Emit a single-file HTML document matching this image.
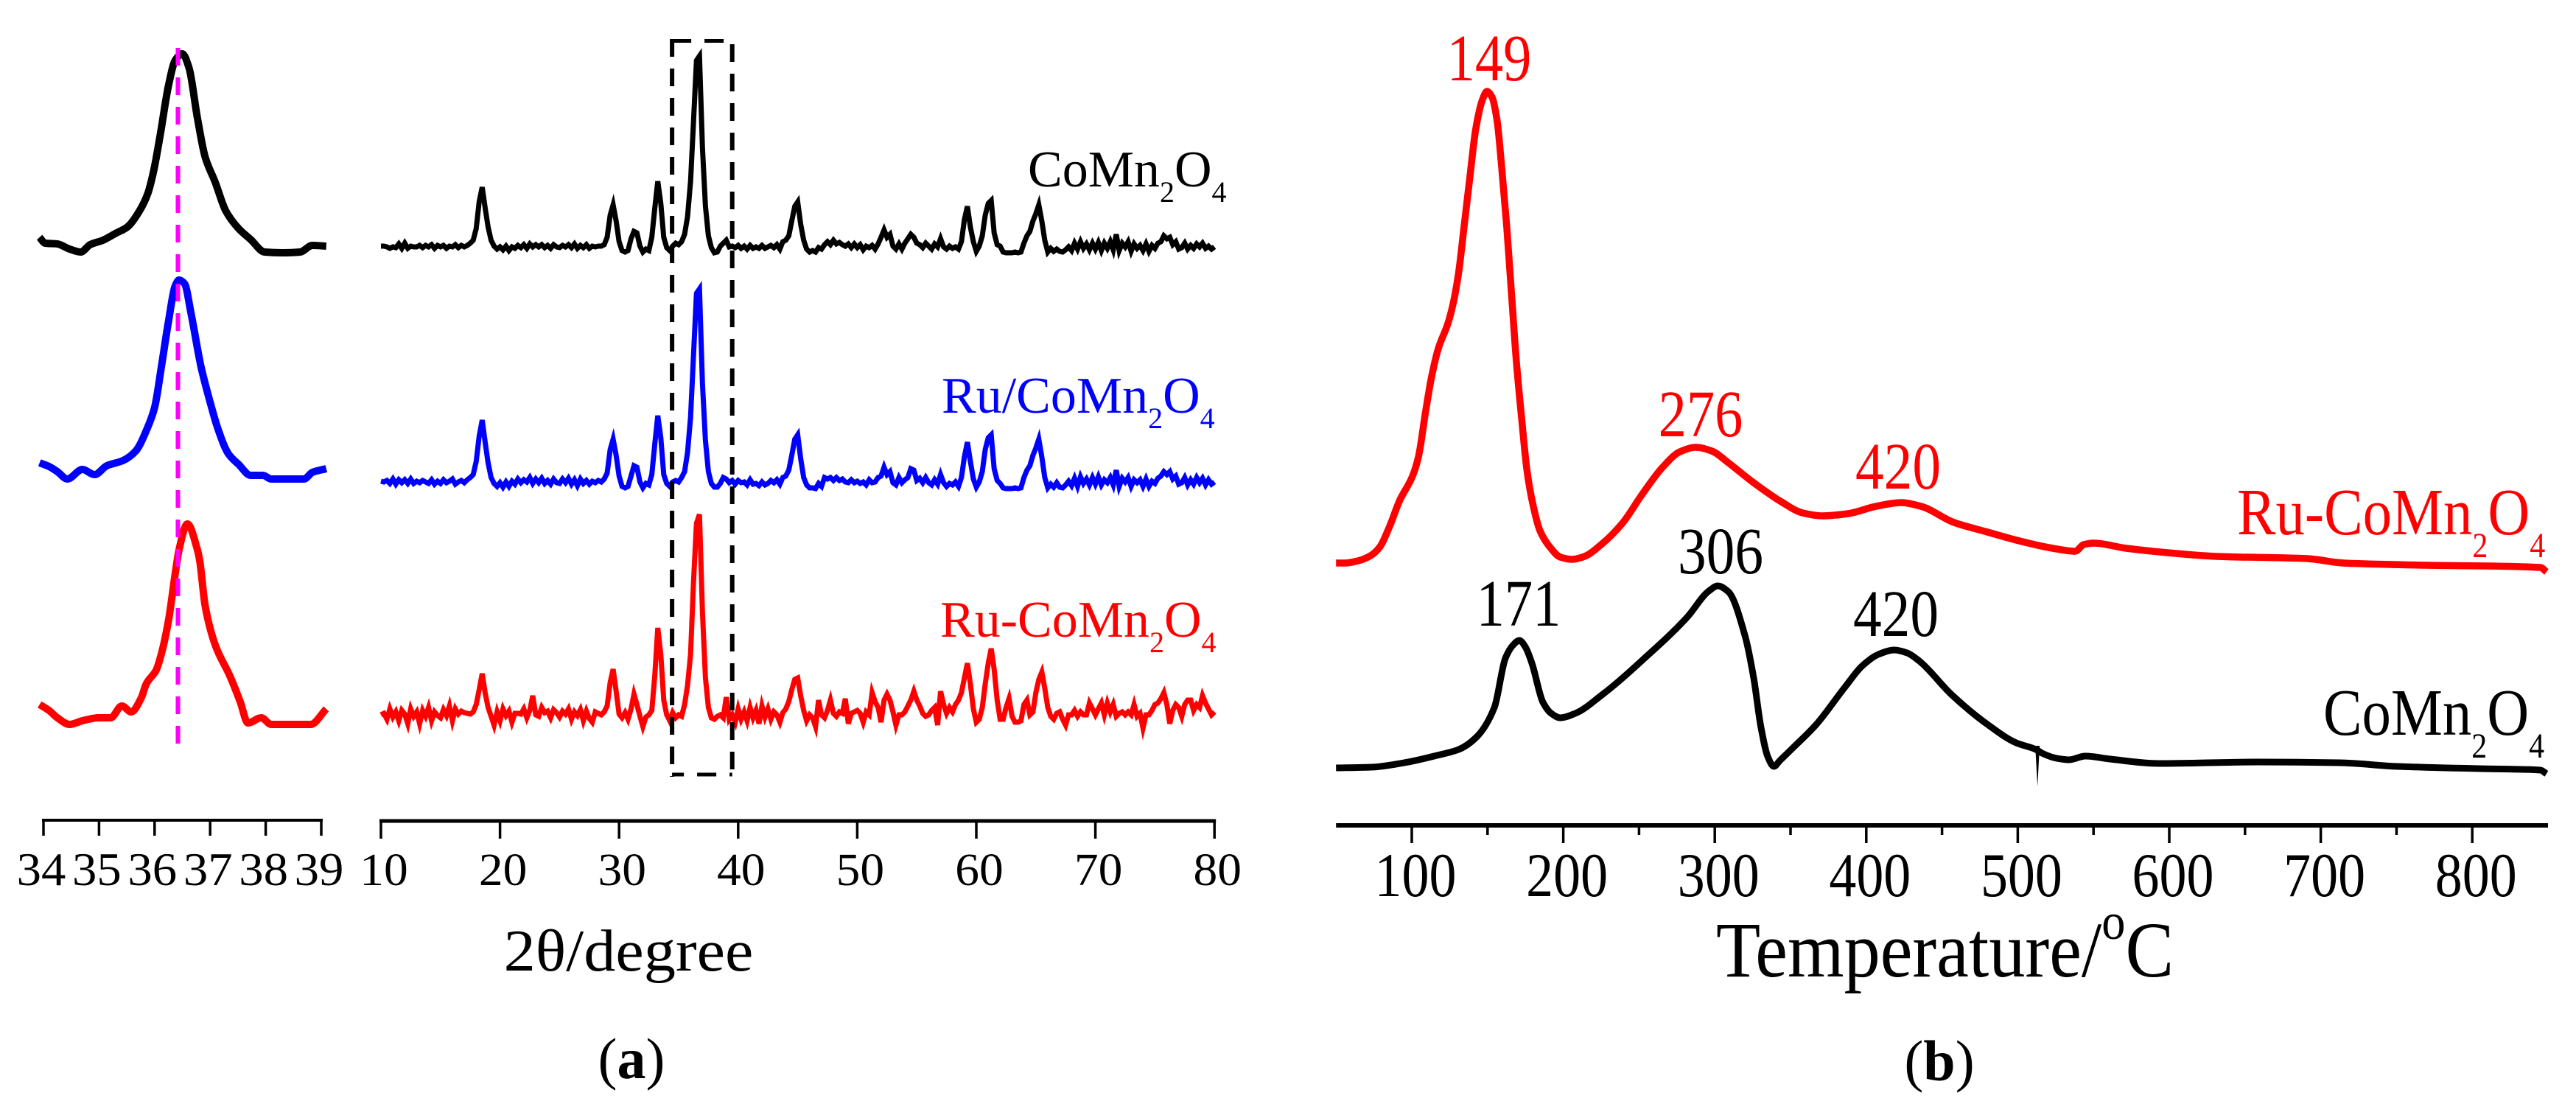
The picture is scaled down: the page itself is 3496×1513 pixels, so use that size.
<!DOCTYPE html>
<html lang="en">
<head>
<meta charset="utf-8">
<title>XRD patterns and TPR profiles of CoMn2O4 catalysts</title>
<style>
html,body{margin:0;padding:0;background:#fff;}
svg{display:block;}
text{font-family:"Liberation Serif","Times New Roman",serif;}
</style>
</head>
<body>
<svg id="figure" xmlns="http://www.w3.org/2000/svg" width="3496" height="1513" viewBox="0 0 3496 1513">
  <rect x="0" y="0" width="3496" height="1513" fill="#ffffff"/>
  <g id="inset-layer"></g>
  <g id="xrd-layer"></g>
  <g id="tpr-layer"></g>

  <text x="1395" y="253" font-size="70" fill="#000">CoMn<tspan font-size="40" dy="21">2</tspan><tspan dy="-21">O</tspan><tspan font-size="40" dy="21">4</tspan></text>
  <text x="1278" y="560" font-size="70" fill="#0000ff">Ru/CoMn<tspan font-size="40" dy="21">2</tspan><tspan dy="-21">O</tspan><tspan font-size="40" dy="21">4</tspan></text>
  <text x="1276" y="864" font-size="70" fill="#ff0000">Ru-CoMn<tspan font-size="40" dy="21">2</tspan><tspan dy="-21">O</tspan><tspan font-size="40" dy="21">4</tspan></text>

  <text transform="translate(853,1317) scale(1.08,1)" text-anchor="middle" font-size="80" fill="#000">2θ/degree</text>
  <text x="857" y="1463" text-anchor="middle" font-size="78" fill="#000">(<tspan font-weight="bold">a</tspan>)</text>

  <text transform="translate(2021,109) scale(.85,1)" text-anchor="middle" font-size="90" fill="#ff0000">149</text>
  <text transform="translate(2308,592) scale(.85,1)" text-anchor="middle" font-size="90" fill="#ff0000">276</text>
  <text transform="translate(2576,663) scale(.86,1)" text-anchor="middle" font-size="90" fill="#ff0000">420</text>
  <text transform="translate(2335,778) scale(.86,1)" text-anchor="middle" font-size="90" fill="#000">306</text>
  <text transform="translate(2061,849) scale(.85,1)" text-anchor="middle" font-size="90" fill="#000">171</text>
  <text transform="translate(2573,863) scale(.86,1)" text-anchor="middle" font-size="90" fill="#000">420</text>

  <text transform="translate(3036,725) scale(.875,1)" font-size="90" fill="#ff0000">Ru-CoMn<tspan font-size="48" dy="31">2</tspan><tspan dy="-31">O</tspan><tspan font-size="48" dy="31">4</tspan></text>
  <text transform="translate(3153,997) scale(.875,1)" font-size="90" fill="#000">CoMn<tspan font-size="48" dy="31">2</tspan><tspan dy="-31">O</tspan><tspan font-size="48" dy="31">4</tspan></text>

  <text transform="translate(2329,1325) scale(.92,1)" font-size="107" fill="#000">Temperature/<tspan font-size="70" dy="-51">o</tspan><tspan dy="51">C</tspan></text>
  <text x="2632" y="1466" text-anchor="middle" font-size="78" fill="#000">(<tspan font-weight="bold">b</tspan>)</text>
</svg>

<script>
/* ---------- Inset XRD (34-39 degrees) ---------- */
const insetTicks = [34, 35, 36, 37, 38, 39];
const insetAnglesBlack = [33.93,34.03,34.25,34.47,34.67,34.84,35.07,35.29,35.51,35.73,35.88,35.98,36.10,36.25,36.37,36.50,36.62,36.77,36.91,37.09,37.28,37.51,37.73,37.98,38.32,38.62,38.84,39.09];
const insetValuesBlack = [28,20,19,12,8,18,24,33,42,64,88,117,166,234,268,277,258,190,137,103,64,40,25,8,7,8,17,16];
const insetAnglesBlue = [33.93,34.10,34.25,34.43,34.70,34.92,35.14,35.43,35.66,35.88,36.0,36.13,36.25,36.37,36.44,36.54,36.66,36.84,36.99,37.14,37.33,37.51,37.73,37.95,38.10,38.69,38.84,39.09];
const insetValuesBlue = [32,27,20,10,23,16,28,35,48,81,107,166,224,272,280,275,233,161,117,78,44,30,15,15,10,10,19,24];
const insetAnglesRed = [33.93,34.10,34.25,34.47,34.70,34.99,35.21,35.41,35.58,35.76,35.85,36.03,36.13,36.25,36.37,36.44,36.59,36.77,36.81,36.91,37.09,37.36,37.54,37.68,37.92,38.10,38.81,39.09];
const insetValuesRed = [44,36,26,17,22,26,26,42,34,53,72,91,115,158,221,254,289,254,240,178,125,82,48,19,26,17,17,38];
const insetReferenceAngle = 36.42;

/* ---------- Full XRD pattern (10-80 degrees, one value every 0.25 degree) ---------- */
const xrdTicks = [10, 20, 30, 40, 50, 60, 70, 80];
const xrdStart = 10;
const xrdStep = 0.25;
const xrdBoxAngles = [34.45, 39.5];
const xrdBlack = [
16,16,15,13,15,14,19,13,20,13,16,15,15,17,14,17,15,18,13,17,
15,17,13,16,15,18,14,17,15,17,20,24,40,76,96,68,42,24,16,12,
15,11,16,10,15,13,17,14,18,13,19,15,18,15,18,14,17,13,18,15,
14,17,15,18,14,19,13,17,14,18,13,16,15,16,16,18,28,58,72,50,
22,10,8,10,26,36,34,16,8,12,10,28,68,104,74,28,14,10,16,20,
18,22,32,56,104,185,268,274,150,70,30,14,7,8,16,20,24,15,16,14,
17,13,16,12,17,13,15,13,17,13,15,17,14,18,12,22,24,30,50,70,
76,46,24,12,8,10,8,14,12,18,22,18,24,19,21,18,16,19,14,19,
14,18,11,16,14,17,12,19,28,38,28,32,16,12,19,12,20,26,32,28,
20,18,14,20,16,12,19,15,26,15,12,16,13,15,12,22,52,70,42,22,
9,16,30,58,74,78,34,18,16,8,7,7,7,8,7,8,20,30,36,50,
60,72,50,24,8,13,9,12,9,8,11,15,10,20,12,22,13,19,11,20,
12,21,10,20,13,22,11,32,10,20,15,22,9,19,13,17,10,19,9,17,
13,20,22,30,26,28,18,22,12,14,20,12,17,13,19,15,20,13,16,12,
15];
const xrdBlue = [
17,16,18,14,20,13,19,15,19,14,20,14,17,15,18,16,14,19,13,17,
14,19,15,17,20,13,16,18,15,19,22,26,44,78,100,70,42,22,14,10,
15,9,16,10,17,13,20,15,19,16,22,14,20,15,21,14,18,13,20,15,
14,20,15,21,13,19,11,20,14,18,13,17,15,18,16,20,28,60,74,52,
24,10,8,10,24,38,36,16,8,14,12,26,68,106,76,26,14,10,16,18,
16,22,30,56,104,188,272,278,150,72,30,14,9,9,14,22,20,15,18,13,
18,15,16,12,19,13,14,11,16,12,14,18,15,19,13,22,24,32,52,74,
80,48,22,12,8,8,7,14,10,22,20,22,18,22,18,20,16,15,19,15,
17,14,16,12,19,15,16,22,24,36,26,30,15,12,22,15,19,22,34,32,
18,21,15,22,15,12,19,13,26,15,10,14,12,16,10,22,50,70,44,20,
9,16,30,60,76,80,34,18,14,8,7,7,7,8,7,8,22,32,38,52,
62,74,50,22,8,13,9,15,9,8,12,17,11,21,10,23,14,20,12,22,
13,23,12,19,15,22,12,32,10,21,16,22,10,19,15,19,10,20,10,17,
14,21,24,30,26,30,20,24,13,15,22,12,19,13,22,15,21,12,19,13,
16];
const xrdRed = [
30,32,24,38,27,34,22,36,31,18,38,28,34,18,36,28,40,22,34,29,
26,37,29,42,22,38,31,35,33,32,31,34,44,64,86,60,40,28,16,34,
22,38,29,35,20,32,32,31,38,26,36,56,30,28,40,33,35,26,37,33,
27,35,31,38,24,34,29,37,22,35,25,20,34,32,30,34,42,74,92,62,
31,26,33,24,38,58,44,28,14,27,30,36,84,148,112,50,30,22,33,26,
30,28,44,70,112,210,290,302,170,80,40,26,24,28,30,26,54,24,30,20,
38,24,34,22,40,26,36,18,42,27,38,24,34,30,20,33,38,48,64,78,
80,56,36,22,30,26,14,50,30,26,36,50,32,28,34,32,52,18,32,34,
36,32,20,34,30,60,48,40,20,50,58,50,34,16,30,30,34,42,50,62,
50,42,32,28,30,36,40,16,62,44,32,40,34,44,50,60,80,100,72,38,
20,24,40,72,100,120,92,50,24,24,40,52,28,20,20,22,44,50,30,34,
60,78,88,66,40,28,24,32,34,24,16,30,30,36,28,34,30,30,46,38,
30,38,46,30,46,34,44,28,32,34,30,34,30,44,28,32,12,30,30,36,
44,46,52,60,44,18,36,44,40,28,44,50,50,36,44,40,56,46,38,30,
34];

/* ---------- TPR (Temperature in degrees C, signal in a.u.) ---------- */
const tprMajorTicks = [100, 200, 300, 400, 500, 600, 700, 800];
const tprMinorTicks = [150, 250, 350, 450, 550, 650, 750];
const tprTempsRed = [50,55.7,64.5,72.8,79,85,92,100.5,104.4,109,113,117.5,124,127.7,131,134.5,138.4,142.3,146.7,149.6,153,156.4,159.3,162.7,166,169,172.5,176,180,184.6,191,198,206,214,225,239,252,266,277,287.5,298,309,325,344,358,371,388,406.5,423,436,458,480,501,523,538,543.5,550,571.7,599,631,691,715,770,845,849];
const tprValuesRed = [36,36,39,46,58,84,121,154,180,240,288,327,362,392,431,492,561,626,665,676,668,635,574,492,396,310,232,162,115,80,58,44,41,45,61,90,129,167,187,193,188,172,146,119,104,100,103,113,118,113,91,78,66,56,52,61,63,56,50,45,42,36,33,30,24];
const tprTempsBlack = [50,73.4,95,116.7,131,142.8,154.5,161.8,167,171,175,179.3,186.6,192,198,208,225.5,253.7,282,295.5,302,309,320,325.7,330.5,335,339,343,350.5,367,385.7,397.6,408,418.6,427,435,456.5,480,499,512,516,525.7,533.7,544.6,561,593,658,712.5,750.4,804.6,845,849];
const tprValuesBlack = [58,59,65,75,83,100,140,207,225,231,222,200,147,132,126,132,157,207,263,297,305,297,237,180,113,73,60,68,83,117,167,197,212,218,214,203,157,117,92,83,78,71,69,74,70,64,66,65,60,57,55,50];
const tprDipTemp = 513;
const tprDipTop = 88;
const tprDipBottom = 33;

/* ---------- Axis functions ---------- */
function insetX(angle) { return 59 + (angle - 34) * 75.4; }
function xrdX(angle) { return 517 + (angle - 10) * 16.16; }
function tprX(temp) { return 1916 + (temp - 100) * 2.056; }
function intensityY(base, value) { return base - value; }

const SVG_NS = 'http://www.w3.org/2000/svg';
const insetLayer = document.getElementById('inset-layer');
const xrdLayer = document.getElementById('xrd-layer');
const tprLayer = document.getElementById('tpr-layer');

function polyPath(xs, ys) {
  let d = '';
  for (let i = 0; i < xs.length; i++) {
    d += (i === 0 ? 'M' : 'L') + xs[i].toFixed(1) + ' ' + ys[i].toFixed(1);
  }
  return d;
}

/* Monotone cubic interpolation through the data points */
function smoothPath(xs, ys) {
  const n = xs.length;
  const secant = [];
  for (let i = 0; i < n - 1; i++) { secant.push((ys[i + 1] - ys[i]) / (xs[i + 1] - xs[i])); }
  const slope = [secant[0]];
  for (let i = 1; i < n - 1; i++) {
    if (secant[i - 1] * secant[i] <= 0) { slope.push(0); }
    else {
      const h0 = xs[i] - xs[i - 1];
      const h1 = xs[i + 1] - xs[i];
      const w0 = 2 * h1 + h0;
      const w1 = h1 + 2 * h0;
      slope.push((w0 + w1) / (w0 / secant[i - 1] + w1 / secant[i]));
    }
  }
  slope.push(secant[n - 2]);
  let d = 'M' + xs[0].toFixed(1) + ' ' + ys[0].toFixed(1);
  for (let i = 0; i < n - 1; i++) {
    const h = (xs[i + 1] - xs[i]) / 3;
    d += 'C' + (xs[i] + h).toFixed(1) + ' ' + (ys[i] + slope[i] * h).toFixed(1) + ' ' +
         (xs[i + 1] - h).toFixed(1) + ' ' + (ys[i + 1] - slope[i + 1] * h).toFixed(1) + ' ' +
         xs[i + 1].toFixed(1) + ' ' + ys[i + 1].toFixed(1);
  }
  return d;
}

function makeCurve(parent, pathData, color, width, join) {
  const p = document.createElementNS(SVG_NS, 'path');
  p.setAttribute('d', pathData);
  p.setAttribute('fill', 'none');
  p.setAttribute('stroke', color);
  p.setAttribute('stroke-width', width);
  p.setAttribute('stroke-linejoin', join);
  p.setAttribute('stroke-miterlimit', '5');
  parent.appendChild(p);
  return p;
}

function makeLine(parent, x1, y1, x2, y2, color, width, dash) {
  const l = document.createElementNS(SVG_NS, 'line');
  l.setAttribute('x1', x1);
  l.setAttribute('y1', y1);
  l.setAttribute('x2', x2);
  l.setAttribute('y2', y2);
  l.setAttribute('stroke', color);
  l.setAttribute('stroke-width', width);
  if (dash) { l.setAttribute('stroke-dasharray', dash); }
  parent.appendChild(l);
  return l;
}

function makeText(parent, x, y, size, scale, content) {
  const t = document.createElementNS(SVG_NS, 'text');
  t.setAttribute('transform', 'translate(' + x + ',' + y + ') scale(' + scale + ',1)');
  t.setAttribute('text-anchor', 'middle');
  t.setAttribute('font-size', size);
  t.setAttribute('fill', '#000');
  t.textContent = content;
  parent.appendChild(t);
  return t;
}

/* ---------- Inset plot ---------- */
const insetBlackCurve = makeCurve(insetLayer, smoothPath(insetAnglesBlack.map(insetX), insetValuesBlack.map(function (v) { return intensityY(350, v); })), '#000000', 10, 'round');


const insetBlueCurve = makeCurve(insetLayer, smoothPath(insetAnglesBlue.map(insetX), insetValuesBlue.map(function (v) { return intensityY(660, v); })), '#0000ff', 10, 'round');


const insetRedCurve = makeCurve(insetLayer, smoothPath(insetAnglesRed.map(insetX), insetValuesRed.map(function (v) { return intensityY(1000, v); })), '#ff0000', 10, 'round');



const referenceLine = makeLine(insetLayer, insetX(insetReferenceAngle), 65, insetX(insetReferenceAngle), 1019, '#ff00ff', 6, '24 16');



const insetAxis = makeLine(insetLayer, insetX(34) - 2, 1113, insetX(39) + 2, 1113, '#000', 4);



insetTicks.forEach(function (tick) {
  const mark = makeLine(insetLayer, insetX(tick), 1113, insetX(tick), 1134, '#000', 3.5);
  
  
  const label = makeText(insetLayer, insetX(tick) - 3, 1201, 63, 1.06, String(tick));
  
  
});

/* ---------- Full XRD plot ---------- */
function xrdPositions(series) {
  return series.map(function (_, i) { return xrdX(xrdStart + i * xrdStep); });
}

const xrdBlackCurve = makeCurve(xrdLayer, polyPath(xrdPositions(xrdBlack), xrdBlack.map(function (v) { return intensityY(350, v); })), '#000000', 7, 'miter');


const xrdBlueCurve = makeCurve(xrdLayer, polyPath(xrdPositions(xrdBlue), xrdBlue.map(function (v) { return intensityY(670, v); })), '#0000ff', 7, 'miter');


const xrdRedCurve = makeCurve(xrdLayer, polyPath(xrdPositions(xrdRed), xrdRed.map(function (v) { return intensityY(1000, v); })), '#ff0000', 7, 'miter');



const boxLeft = makeLine(xrdLayer, xrdX(xrdBoxAngles[0]), 53, xrdX(xrdBoxAngles[0]), 1054, '#000', 6, '24 16');


const boxRight = makeLine(xrdLayer, xrdX(xrdBoxAngles[1]), 60, xrdX(xrdBoxAngles[1]), 1054, '#000', 6, '24 16');


const boxTop = makeLine(xrdLayer, xrdX(xrdBoxAngles[0]), 55.5, xrdX(xrdBoxAngles[1]), 55.5, '#000', 5, '26 18');


const boxBottom = makeLine(xrdLayer, xrdX(xrdBoxAngles[0]), 1051, xrdX(xrdBoxAngles[1]), 1051, '#000', 5, '16 18 26 18');



const xrdAxis = makeLine(xrdLayer, xrdX(10) - 2, 1114, xrdX(80) + 2, 1114, '#000', 5);



xrdTicks.forEach(function (tick) {
  const mark = makeLine(xrdLayer, xrdX(tick), 1114, xrdX(tick), 1138, '#000', 3.5);
  
  
  const label = makeText(xrdLayer, xrdX(tick) + 4, 1201, 63, 1.04, String(tick));
  
  
});

/* ---------- TPR plot ---------- */
const tprRedCurve = makeCurve(tprLayer, smoothPath(tprTempsRed.map(tprX), tprValuesRed.map(function (v) { return intensityY(800, v); })), '#ff0000', 9.5, 'round');


const tprBlackCurve = makeCurve(tprLayer, smoothPath(tprTempsBlack.map(tprX), tprValuesBlack.map(function (v) { return intensityY(1100, v); })), '#000000', 9, 'round');



const tprDip = document.createElementNS(SVG_NS, 'polygon');
tprDip.setAttribute('points',
  (tprX(tprDipTemp) - 3) + ',' + intensityY(1100, tprDipTop) + ' ' +
  (tprX(tprDipTemp) + 3) + ',' + intensityY(1100, tprDipTop) + ' ' +
  tprX(tprDipTemp) + ',' + intensityY(1100, tprDipBottom));
tprDip.setAttribute('fill', '#000');


tprLayer.appendChild(tprDip);

const tprAxis = makeLine(tprLayer, tprX(50), 1120, tprX(850), 1120, '#000', 6);



tprMajorTicks.forEach(function (tick) {
  const mark = makeLine(tprLayer, tprX(tick), 1120, tprX(tick), 1144, '#000', 3.5);
  
  
  const label = makeText(tprLayer, tprX(tick) + 5, 1216, 85, 0.87, String(tick));
  
  
});

tprMinorTicks.forEach(function (tick) {
  const mark = makeLine(tprLayer, tprX(tick), 1120, tprX(tick), 1133, '#000', 3.5);
  
  
});
</script>
</body>
</html>
